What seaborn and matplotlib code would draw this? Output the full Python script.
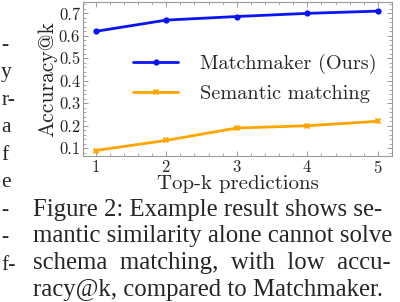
import pandas as pd
import seaborn as sns
import matplotlib.pyplot as plt
from matplotlib.ticker import AutoMinorLocator

# data
top_k = [1, 2, 3, 4, 5]
matchmaker = [0.62, 0.67, 0.686, 0.700, 0.710]
semantic = [0.090, 0.135, 0.190, 0.200, 0.220]

series_names = ["Matchmaker (Ours)", "Semantic matching"]

caption_lines = [
    "Figure 2: Example result shows se-",
    "mantic similarity alone cannot solve",
    "schema  matching,  with  low  accu-",
    "racy@k, compared to Matchmaker.",
]
margin_bits = ["-", "y", "r-", "a", "f", "e", "-", "-", "f-"]

df = pd.DataFrame({
    "k": top_k * 2,
    "acc": matchmaker + semantic,
    "method": [series_names[0]] * 5 + [series_names[1]] * 5,
})

sns.set_style("ticks")
plt.rcParams["font.family"] = ["cmr10", "DejaVu Serif"]
plt.rcParams["axes.formatter.use_mathtext"] = True
plt.rcParams["mathtext.fontset"] = "cm"

fig = plt.figure(figsize=(4, 3.02), dpi=100)
ax = fig.add_axes([0.2075, 0.483, 0.7725, 0.51])

sns.lineplot(
    data=df, x="k", y="acc", hue="method", style="method",
    palette=["#0a14f5", "#ffa500"],
    markers=["o", "X"], dashes=False,
    linewidth=2, markersize=4.5, markeredgewidth=0,
    ax=ax,
)

ax.set_xlim(0.82, 5.2)
ax.set_ylim(0.065, 0.75)
ax.set_xticks(top_k)
ax.set_yticks([0.1, 0.2, 0.3, 0.4, 0.5, 0.6, 0.7])
ax.set_yticklabels(["0.1", "0.2", "0.3", "0.4", "0.5", "0.6", "0.7"])
ax.xaxis.set_minor_locator(AutoMinorLocator(5))
ax.yaxis.set_minor_locator(AutoMinorLocator(5))
ax.tick_params(which="both", direction="in", top=True, right=True,
               color="#888888", labelsize=12, pad=2)
ax.tick_params(which="major", length=3.5, width=0.6)
ax.tick_params(which="minor", length=2, width=0.5)
for s in ax.spines.values():
    s.set_color("#999999")
    s.set_linewidth(0.8)

ax.set_xlabel("Top-k predictions", fontsize=15, labelpad=-1)
ax.set_ylabel("Accuracy@k", fontsize=15.5, labelpad=1)

ax.legend(loc="center right", bbox_to_anchor=(1.01, 0.505), frameon=False,
          fontsize=14.6, handlelength=2.2, handletextpad=1.1, labelspacing=0.55)

# caption and cut-off margin text from the page
y = 0.305
for line in caption_lines:
    fig.text(0.083, y, line, fontsize=17.8, family=["Liberation Serif"], va="center")
    y -= 0.088
yy = 0.85
for b in margin_bits:
    fig.text(0.003, yy, b, fontsize=15.5, family=["Liberation Serif"], ha="left", va="center")
    yy -= 0.091

plt.savefig("out.png", dpi=100)
